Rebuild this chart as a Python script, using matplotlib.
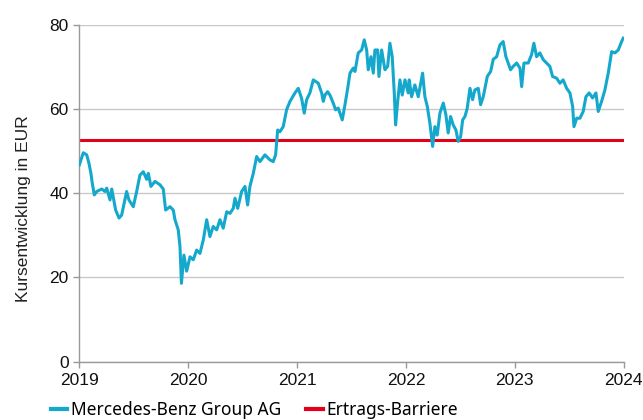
import matplotlib
matplotlib.use('Agg')
import matplotlib.pyplot as plt

# Kursverlauf Mercedes-Benz Group AG (Jahr als Dezimalzahl, Kurs in EUR)
years = [2019.000, 2019.037, 2019.068, 2019.089, 2019.107, 2019.119, 2019.138, 2019.160,
         2019.206, 2019.236, 2019.252, 2019.282, 2019.298, 2019.334, 2019.365, 2019.389,
         2019.435, 2019.456, 2019.496, 2019.527, 2019.557, 2019.588, 2019.619, 2019.634,
         2019.658, 2019.695, 2019.741, 2019.771, 2019.793, 2019.833, 2019.863, 2019.879,
         2019.909, 2019.925, 2019.938, 2019.961, 2019.986, 2020.017, 2020.047, 2020.078,
         2020.108, 2020.139, 2020.170, 2020.200, 2020.230, 2020.262, 2020.292, 2020.322,
         2020.354, 2020.384, 2020.414, 2020.430, 2020.455, 2020.491, 2020.522, 2020.546,
         2020.567, 2020.598, 2020.629, 2020.659, 2020.705, 2020.751, 2020.781, 2020.803,
         2020.822, 2020.843, 2020.873, 2020.904, 2020.935, 2020.981, 2021.011, 2021.042,
         2021.066, 2021.088, 2021.118, 2021.149, 2021.195, 2021.226, 2021.241, 2021.256,
         2021.281, 2021.302, 2021.332, 2021.354, 2021.378, 2021.394, 2021.415, 2021.440,
         2021.465, 2021.486, 2021.516, 2021.532, 2021.562, 2021.593, 2021.617, 2021.639,
         2021.654, 2021.679, 2021.700, 2021.715, 2021.740, 2021.752, 2021.777, 2021.807,
         2021.832, 2021.853, 2021.874, 2021.893, 2021.905, 2021.924, 2021.945, 2021.966,
         2021.991, 2022.021, 2022.030, 2022.052, 2022.082, 2022.113, 2022.153, 2022.174,
         2022.196, 2022.220, 2022.245, 2022.266, 2022.287, 2022.312, 2022.343, 2022.367,
         2022.388, 2022.410, 2022.434, 2022.459, 2022.480, 2022.502, 2022.521, 2022.542,
         2022.563, 2022.588, 2022.612, 2022.633, 2022.664, 2022.686, 2022.710, 2022.747,
         2022.778, 2022.802, 2022.833, 2022.863, 2022.893, 2022.918, 2022.939, 2022.961,
         2022.985, 2023.017, 2023.047, 2023.063, 2023.084, 2023.123, 2023.154, 2023.175,
         2023.200, 2023.230, 2023.261, 2023.292, 2023.322, 2023.347, 2023.384, 2023.414,
         2023.444, 2023.476, 2023.506, 2023.531, 2023.543, 2023.568, 2023.598, 2023.628,
         2023.653, 2023.683, 2023.714, 2023.745, 2023.766, 2023.797, 2023.827, 2023.858,
         2023.889, 2023.919, 2023.950, 2023.981, 2023.995]
kurs = [46.7, 49.6, 49.1, 47.1, 44.7, 42.4, 39.6, 40.4,
        41.0, 40.4, 41.2, 38.4, 41.0, 36.0, 34.1, 34.8,
        40.4, 38.4, 36.8, 40.4, 44.3, 45.1, 43.3, 44.7,
        41.6, 42.8, 42.0, 41.0, 36.0, 36.8, 36.0, 33.7,
        31.3, 27.3, 18.6, 25.3, 21.5, 24.9, 24.2, 26.5,
        25.7, 28.9, 33.7, 29.7, 32.1, 31.3, 33.7, 31.7,
        35.6, 35.2, 36.4, 38.8, 36.4, 40.4, 41.6, 37.2,
        41.6, 44.7, 48.7, 47.5, 49.1, 47.9, 47.5, 49.1,
        55.0, 54.6, 55.8, 59.8, 61.8, 63.8, 64.9, 62.5,
        59.0, 62.2, 63.8, 66.9, 66.1, 63.8, 61.8, 63.3,
        64.1, 63.3, 61.4, 59.8, 60.2, 59.0, 57.4, 61.0,
        64.9, 68.5, 69.7, 68.9, 73.3, 74.0, 76.4, 74.0,
        69.3, 72.4, 68.5, 74.0, 74.0, 67.7, 74.0, 69.3,
        70.1, 75.6, 72.4, 63.8, 56.2, 61.8, 66.9, 63.3,
        66.9, 63.8, 66.9, 62.9, 65.7, 62.9, 68.5, 62.9,
        60.6, 56.6, 51.1, 55.8, 53.8, 59.0, 61.4, 58.6,
        54.3, 58.2, 56.2, 55.0, 52.3, 53.4, 57.4, 58.2,
        60.2, 64.9, 62.2, 64.5, 64.9, 61.0, 62.9, 67.7,
        68.9, 71.8, 72.4, 75.2, 76.0, 72.4, 70.9, 69.3,
        70.1, 70.9, 69.7, 65.3, 70.9, 70.9, 72.9, 75.6,
        72.4, 73.3, 71.7, 70.9, 70.1, 67.7, 67.3, 66.1,
        66.9, 64.9, 63.8, 60.6, 55.8, 57.8, 57.8, 59.4,
        62.9, 63.8, 62.6, 63.8, 59.4, 61.8, 64.5, 68.5,
        73.6, 73.3, 74.0, 76.0, 76.8]

barriere = 52.7
xticks = [2019, 2020, 2021, 2022, 2023, 2024]
yticks = [0, 20, 40, 60, 80]

plt.rcParams['font.family'] = ['Liberation Sans', 'DejaVu Sans']

fig = plt.figure(figsize=(6.43, 4.20), dpi=100)
ax = fig.add_axes([0.1233, 0.1388, 0.8467, 0.8024])

ax.plot(years, kurs, color='#14a9cc', lw=2.2, label='Mercedes-Benz Group AG', zorder=3)
ax.axhline(barriere, color='#e2001a', lw=2.2, label='Ertrags-Barriere', zorder=2)

ax.set_xlim(2019, 2024)
ax.set_ylim(0, 80)
ax.set_xticks(xticks)
ax.set_yticks(yticks)
ax.tick_params(axis='both', labelsize=12.5, colors='#999999', labelcolor='#111111',
               direction='out', length=4, width=1)
ax.tick_params(axis='x', pad=4)
ax.grid(axis='y', color='#c8c8c8', lw=1)
ax.set_axisbelow(True)
for s in ['top', 'right']:
    ax.spines[s].set_visible(False)
for s in ['left', 'bottom']:
    ax.spines[s].set_color('#999999')
    ax.spines[s].set_linewidth(1)

ax.set_ylabel('Kursentwicklung in EUR', fontsize=12.5, color='#222222')
ax.yaxis.set_label_coords(-0.088, 0.455)

# Legende unten, knapp über dem Bildrand
leg = fig.legend(loc='lower left', bbox_to_anchor=(0.055, -0.034), ncol=2, frameon=False,
                 handlelength=0.95, handletextpad=0.2, columnspacing=1.45,
                 prop={'family': ['Noto Sans', 'DejaVu Sans'], 'size': 12.5})
for h in leg.get_lines():
    h.set_linewidth(3)

fig.savefig('out.png', dpi=100)
